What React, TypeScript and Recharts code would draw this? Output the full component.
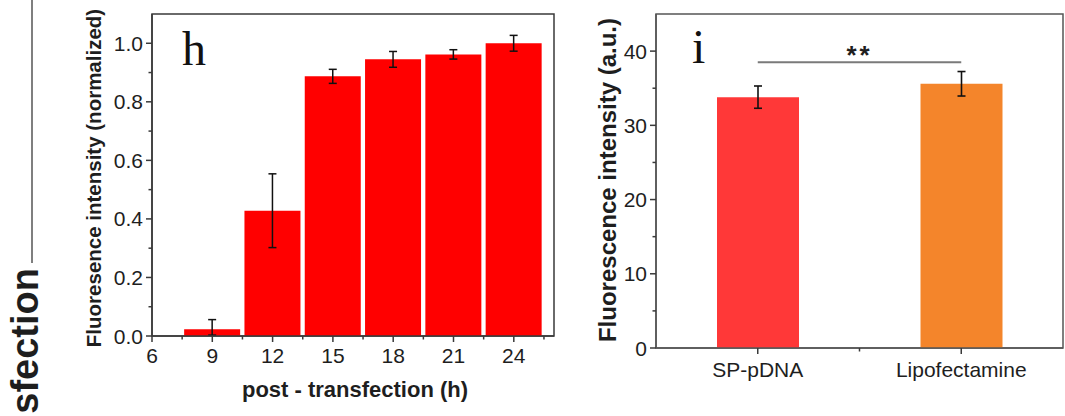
import React from 'react';
import {
  BarChart,
  Bar,
  XAxis,
  YAxis,
  ErrorBar,
  Cell,
  ReferenceArea,
  ReferenceLine,
  Label,
} from 'recharts';

const SANS = '"Liberation Sans", Arial, Helvetica, sans-serif';
const SERIF = '"Liberation Serif", "Times New Roman", serif';
const AXIS = '#3a3a3a';
const TEXT = '#1e1e1e';

// ---- Panel h: time course ----
const hours = [9, 12, 15, 18, 21, 24];
const normIntensity = [0.023, 0.428, 0.887, 0.945, 0.962, 1.0];
const normErrLow = [0.02, 0.126, 0.024, 0.027, 0.016, 0.027];
const normErrHigh = [0.033, 0.126, 0.024, 0.027, 0.016, 0.027];
const hXTicks = [6, 7.5, 9, 10.5, 12, 13.5, 15, 16.5, 18, 19.5, 21, 22.5, 24, 25.5];
const hXMajor = [6, 9, 12, 15, 18, 21, 24];
const hYTicks = [0, 0.1, 0.2, 0.3, 0.4, 0.5, 0.6, 0.7, 0.8, 0.9, 1.0];
const hYMajor = [0, 0.2, 0.4, 0.6, 0.8, 1.0];
const hBarColor = '#FF0000';

// ---- Panel i: comparison ----
const groups = ['SP-pDNA', 'Lipofectamine'];
const groupIntensity = [33.8, 35.6];
const groupErr = [1.5, 1.65];
const groupColors = ['#FF3838', '#F4852B'];
const iXTicks = [0.5, 1, 1.5];
const iYTicks = [0, 5, 10, 15, 20, 25, 30, 35, 40];
const iYMajor = [0, 10, 20, 30, 40];
const sigLevel = 38.5;
const sigLabel = '**';

const hData = hours.map((h, i) => ({
  hour: h,
  value: normIntensity[i],
  err: [normErrLow[i], normErrHigh[i]],
}));

const iData = groups.map((g, i) => ({
  pos: i + 0.5,
  name: g,
  value: groupIntensity[i],
  err: groupErr[i],
}));

const near = (list: number[], v: number) => list.some((m) => Math.abs(m - v) < 1e-6);

const makeYTick = (major: number[], fmt: (v: number) => string) => (props: any) => {
  const { x, y, payload } = props;
  const v = payload.value as number;
  const isMajor = near(major, v);
  return (
    <g>
      <line x1={x} x2={x - (isMajor ? 6 : 3.5)} y1={y} y2={y} stroke={AXIS} strokeWidth={1.5} />
      {isMajor && (
        <text x={x - 9} y={y} dy="0.36em" textAnchor="end" fontFamily={SANS} fontSize={21} fill={TEXT}>
          {fmt(v)}
        </text>
      )}
    </g>
  );
};

const makeXTick = (isMajorFn: (v: number) => boolean, fmt: (v: number) => string, dyText: number) => (props: any) => {
  const { x, y, payload } = props;
  const v = payload.value as number;
  const isMajor = isMajorFn(v);
  return (
    <g>
      <line x1={x} x2={x} y1={y} y2={y + (isMajor ? 6 : 3.5)} stroke={AXIS} strokeWidth={1.5} />
      {isMajor && (
        <text x={x} y={y + dyText} textAnchor="middle" fontFamily={SANS} fontSize={21} fill={TEXT}>
          {fmt(v)}
        </text>
      )}
    </g>
  );
};

const HYTick = makeYTick(hYMajor, (v) => v.toFixed(1));
const HXTick = makeXTick((v) => near(hXMajor, v), (v) => String(v), 27);
const IYTick = makeYTick(iYMajor, (v) => String(v));
const IXTick = makeXTick(
  (v) => Math.abs((v % 1) - 0.5) < 1e-6,
  (v) => groups[Math.round(v - 0.5)] ?? '',
  29
);

export default function App() {
  return (
    <div
      style={{
        position: 'absolute',
        left: 0,
        top: 0,
        width: 1065,
        height: 416,
        background: '#ffffff',
        overflow: 'hidden',
      }}
    >
      <div style={{ position: 'absolute', left: 0, top: 0 }}>
        <BarChart width={560} height={416} data={hData} margin={{ top: 14, right: 6, bottom: 40, left: 92 }}>
          <XAxis
            dataKey="hour"
            type="number"
            domain={[6, 26]}
            ticks={hXTicks}
            interval={0}
            height={40}
            tickSize={0}
            tickMargin={0}
            tickLine={false}
            axisLine={{ stroke: AXIS, strokeWidth: 1.5 }}
            tick={HXTick}
            allowDataOverflow
          />
          <YAxis
            type="number"
            domain={[0, 1.1]}
            ticks={hYTicks}
            interval={0}
            width={60}
            tickSize={0}
            tickMargin={0}
            tickLine={false}
            axisLine={{ stroke: AXIS, strokeWidth: 1.5 }}
            tick={HYTick}
            allowDataOverflow
          />
          <Bar dataKey="value" fill={hBarColor} barSize={56} isAnimationActive={false}>
            <ErrorBar dataKey="err" width={4} stroke="#111" strokeWidth={1.5} isAnimationActive={false} />
          </Bar>
          <ReferenceArea
            x1={6}
            x2={26}
            y1={0}
            y2={1.1}
            fill="none"
            fillOpacity={0}
            stroke={AXIS}
            strokeWidth={1.5}
            ifOverflow="visible"
          />
        </BarChart>
      </div>

      <div style={{ position: 'absolute', left: 560, top: 0 }}>
        <BarChart width={505} height={416} data={iData} margin={{ top: 14, right: 2, bottom: 28, left: 36 }}>
          <XAxis
            dataKey="pos"
            type="number"
            domain={[0, 2]}
            ticks={iXTicks}
            interval={0}
            height={40}
            tickSize={0}
            tickMargin={0}
            tickLine={false}
            axisLine={{ stroke: '#555', strokeWidth: 1.5 }}
            tick={IXTick}
            allowDataOverflow
          />
          <YAxis
            type="number"
            domain={[0, 45]}
            ticks={iYTicks}
            interval={0}
            width={60}
            tickSize={0}
            tickMargin={0}
            tickLine={false}
            axisLine={{ stroke: '#555', strokeWidth: 1.5 }}
            tick={IYTick}
            allowDataOverflow
          />
          <Bar dataKey="value" barSize={82} isAnimationActive={false}>
            {iData.map((d, i) => (
              <Cell key={d.name} fill={groupColors[i]} />
            ))}
            <ErrorBar dataKey="err" width={4} stroke="#111" strokeWidth={1.6} isAnimationActive={false} />
          </Bar>
          <ReferenceLine
            segment={[
              { x: iData[0].pos, y: sigLevel },
              { x: iData[1].pos, y: sigLevel },
            ]}
            stroke="#7a7a7a"
            strokeWidth={2}
            ifOverflow="visible"
          >
            <Label
              value={sigLabel}
              position="top"
              offset={-2}
              fontFamily={SANS}
              fontSize={26}
              fontWeight="bold"
              fill={TEXT}
              letterSpacing={3}
            />
          </ReferenceLine>
          <ReferenceArea
            x1={0}
            x2={2}
            y1={0}
            y2={45}
            fill="none"
            fillOpacity={0}
            stroke="#555"
            strokeWidth={1.5}
            ifOverflow="visible"
          />
        </BarChart>
      </div>

      <svg
        width={1065}
        height={416}
        style={{ position: 'absolute', left: 0, top: 0, pointerEvents: 'none' }}
      >
        <line x1={32} x2={32} y1={0} y2={263} stroke="#555" strokeWidth={1.5} />
        <text
          transform="translate(38,268) rotate(-90)"
          textAnchor="end"
          fontFamily={SANS}
          fontSize={38}
          fontWeight="bold"
          fill={TEXT}
        >
          sfection
        </text>
        <text
          transform="translate(101,178) rotate(-90)"
          textAnchor="middle"
          fontFamily={SANS}
          fontSize={20.5}
          fontWeight="bold"
          fill={TEXT}
        >
          Fluoresence intensity (normalized)
        </text>
        <text x={355} y={397} textAnchor="middle" fontFamily={SANS} fontSize={22} fontWeight="bold" fill={TEXT}>
          post - transfection (h)
        </text>
        <text
          transform="translate(616,180) rotate(-90)"
          textAnchor="middle"
          fontFamily={SANS}
          fontSize={24}
          fontWeight="bold"
          fill={TEXT}
        >
          Fluorescence intensity (a.u.)
        </text>
        <text x={182} y={65} fontFamily={SERIF} fontSize={48} fill="#111">
          h
        </text>
        <text x={692} y={63} fontFamily={SERIF} fontSize={48} fill="#111">
          i
        </text>
      </svg>
    </div>
  );
}
